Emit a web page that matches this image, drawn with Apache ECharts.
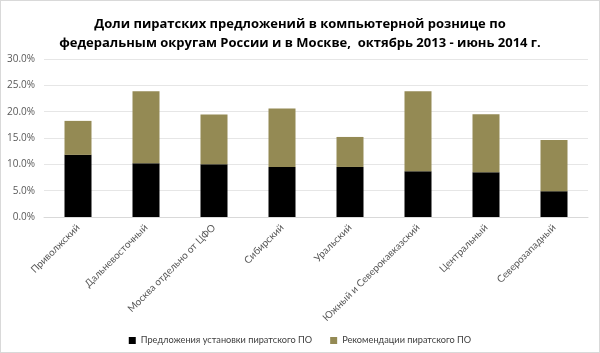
<!DOCTYPE html>
<html>
<head>
<meta charset="utf-8">
<script src="https://cdn.jsdelivr.net/npm/echarts@6/dist/echarts.min.js"></script>
<style>
    html, body { margin: 0; padding: 0; background: #fff; }
    #chart { width: 600px; height: 353px; box-sizing: border-box; border: 1px solid #d9d9d9; }
</style>
</head>
<body>
<div id="chart"></div>
<script>
// данные
var okruga = ['Приволжский', 'Дальневосточный', 'Москва отдельно от ЦФО', 'Сибирский',
    'Уральский', 'Южный и Северокавказский', 'Центральный', 'Северозападный'];
var predlozheniya = [11.8, 10.2, 10.0, 9.5, 9.5, 8.7, 8.5, 4.9];
var rekomendacii = [6.45, 13.7, 9.45, 11.1, 5.7, 15.2, 11.0, 9.7];
var seriesNames = ['Предложения установки пиратского ПО', 'Рекомендации пиратского ПО'];

var myChart = echarts.init(document.getElementById('chart'));

var option = {
    animation: false,
    title: {
        text: 'Доли пиратских предложений в компьютерной рознице по\nфедеральным округам России и в Москве,  октябрь 2013 - июнь 2014 г.',
        left: 'center',
        top: 9,
        textStyle: {
            fontFamily: 'Open Sans',
            fontSize: 13,
            fontWeight: 'bold',
            color: '#000',
            lineHeight: 19
        }
    },
    legend: {
        data: seriesNames,
        top: 330,
        left: 'center',
        icon: 'rect',
        itemWidth: 7,
        itemHeight: 7,
        itemGap: 18,
        itemTextGap: 3,
        textStyle: { fontFamily: 'Lato', fontSize: 9.2, color: '#404040' }
    },
    grid: { left: 43, right: 11, top: 58, bottom: 135 },
    xAxis: {
        type: 'category',
        data: okruga,
        axisTick: { show: false },
        axisLine: { lineStyle: { color: '#d9d9d9' } },
        axisLabel: {
            rotate: 45,
            interval: 0,
            margin: 9,
            fontFamily: 'Lato',
            fontSize: 10,
            color: '#595959'
        }
    },
    yAxis: {
        type: 'value',
        min: 0,
        max: 30,
        interval: 5,
        axisLabel: {
            formatter: function (v) { return v.toFixed(1) + '%'; },
            fontFamily: 'Open Sans',
            fontSize: 10,
            color: '#595959',
            margin: 9
        },
        splitLine: { lineStyle: { color: '#e6e6e6' } }
    },
    series: [{
        name: seriesNames[0],
        type: 'bar',
        stack: 'total',
        barWidth: 27,
        data: predlozheniya,
        itemStyle: { color: '#000000' }
    }, {
        name: seriesNames[1],
        type: 'bar',
        stack: 'total',
        barWidth: 27,
        data: rekomendacii,
        itemStyle: { color: '#948a54' }
    }]
};

myChart.setOption(option);
</script>
</body>
</html>
